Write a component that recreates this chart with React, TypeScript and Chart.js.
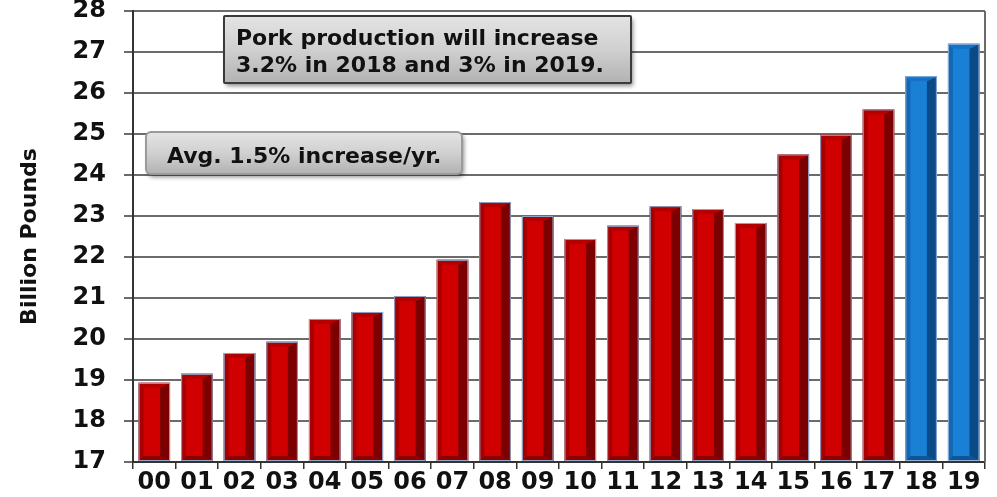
import React, { useEffect, useRef } from "react";
import { Chart, registerables } from "chart.js";
Chart.register(...registerables);

const categories = ["00", "01", "02", "03", "04", "05", "06", "07", "08", "09", "10", "11", "12", "13", "14", "15", "16", "17", "18", "19"];
const production = [18.93, 19.15, 19.66, 19.93, 20.49, 20.66, 21.05, 21.93, 23.34, 23.0, 22.44, 22.76, 23.24, 23.17, 22.83, 24.5, 24.98, 25.6, 26.41, 27.2];
const forecastYears = ["18", "19"];
const yMin = 17;
const yMax = 28;
const axisTitle = "Billion Pounds";
const noteForecast = ["Pork production will increase", "3.2% in 2018 and 3% in 2019."];
const noteAverage = "Avg. 1.5% increase/yr.";

const FONT = '"DejaVu Sans", "Liberation Sans", Arial, sans-serif';

const redPal = { front: "#d00000", left: "#a80000", right: "#7c0000", top: "#b30000", bottom: "#8c0000", edge: "#8fa6c8" };
const bluePal = { front: "#1a80d6", left: "#1268b5", right: "#0b4a86", top: "#1572c4", bottom: "#0d5596", edge: "#8fb0d8" };

const isForecast = (i: number) => forecastYears.includes(categories[i]);

const bevelPlugin = {
  id: "bevel",
  afterDatasetsDraw(chart: any) {
    const meta = chart.getDatasetMeta(0);
    const ctx = chart.ctx as CanvasRenderingContext2D;
    ctx.save();
    meta.data.forEach((el: any, i: number) => {
      const { x, y, base, width } = el.getProps(["x", "y", "base", "width"], true);
      const pal = isForecast(i) ? bluePal : redPal;
      const l = x - width / 2;
      const r = x + width / 2;
      const t = Math.min(y, base);
      const b = Math.max(y, base);
      const side = Math.round(width * 0.33);
      const bev = 5;
      const poly = (pts: number[][], color: string) => {
        ctx.fillStyle = color;
        ctx.beginPath();
        ctx.moveTo(pts[0][0], pts[0][1]);
        for (let k = 1; k < pts.length; k++) ctx.lineTo(pts[k][0], pts[k][1]);
        ctx.closePath();
        ctx.fill();
      };
      poly([[r, t], [r, b], [r - side, b - bev], [r - side, t + bev]], pal.right);
      poly([[l, t], [l + bev, t + bev], [l + bev, b - bev], [l, b]], pal.left);
      poly([[l, t], [r, t], [r - side, t + bev], [l + bev, t + bev]], pal.top);
      poly([[l, b], [r, b], [r - side, b - bev], [l + bev, b - bev]], pal.bottom);
      ctx.strokeStyle = pal.edge;
      ctx.lineWidth = 1;
      ctx.strokeRect(l + 0.5, t + 0.5, width - 1, b - t - 1);
    });
    ctx.restore();
  },
};

function drawNote(
  ctx: CanvasRenderingContext2D,
  x0: number,
  y0: number,
  x1: number,
  y1: number,
  radius: number,
  border: string,
  lines: string[],
  textX: number,
  baselines: number[]
) {
  ctx.save();
  const g = ctx.createLinearGradient(0, y0, 0, y1);
  g.addColorStop(0, "#e4e4e4");
  g.addColorStop(0.5, "#d0d0d0");
  g.addColorStop(1, "#b2b2b2");
  ctx.shadowColor = "rgba(0,0,0,0.45)";
  ctx.shadowBlur = 4;
  ctx.shadowOffsetX = 2;
  ctx.shadowOffsetY = 3;
  ctx.fillStyle = g;
  ctx.beginPath();
  (ctx as any).roundRect(x0, y0, x1 - x0, y1 - y0, radius);
  ctx.fill();
  ctx.shadowColor = "transparent";
  ctx.strokeStyle = border;
  ctx.lineWidth = 2;
  ctx.stroke();
  ctx.fillStyle = "#111";
  ctx.font = `bold 22px ${FONT}`;
  ctx.textAlign = "left";
  ctx.textBaseline = "alphabetic";
  lines.forEach((s, k) => ctx.fillText(s, textX, baselines[k]));
  ctx.restore();
}

const notesPlugin = {
  id: "notes",
  afterDraw(chart: any) {
    const ctx = chart.ctx as CanvasRenderingContext2D;
    const { top, bottom, right } = chart.chartArea;
    ctx.save();
    ctx.strokeStyle = "#6b6b6b";
    ctx.lineWidth = 2;
    ctx.beginPath();
    ctx.moveTo(right, top);
    ctx.lineTo(right, bottom);
    ctx.stroke();
    ctx.restore();
    drawNote(ctx, 224, 16, 631, 83, 1, "#3a3a3a", noteForecast, 236, [45, 72]);
    drawNote(ctx, 146, 132, 462, 174, 5, "#9a9a9a", [noteAverage], 167, [163]);
  },
};

export default function App() {
  const ref = useRef<HTMLCanvasElement>(null);
  useEffect(() => {
    document.body.style.margin = "0";
    const chart = new Chart(ref.current as HTMLCanvasElement, {
      type: "bar",
      data: {
        labels: categories,
        datasets: [
          {
            data: production,
            base: yMin,
            backgroundColor: production.map((_, i) => (isForecast(i) ? bluePal.front : redPal.front)),
            borderWidth: 0,
            barPercentage: 0.74,
            categoryPercentage: 1,
          } as any,
        ],
      },
      options: {
        animation: false,
        responsive: true,
        maintainAspectRatio: false,
        layout: { padding: { top: 11, right: 12, left: 0, bottom: 0 } },
        plugins: { legend: { display: false }, tooltip: { enabled: false } },
        scales: {
          x: {
            grid: { display: true, drawOnChartArea: false, drawTicks: true, tickLength: 7, color: "#333", lineWidth: 1.5, offset: true },
            border: { display: true, color: "#333", width: 2 },
            ticks: { color: "#111", font: { family: FONT, size: 24, weight: "bold", lineHeight: 1 }, padding: 2, maxRotation: 0, autoSkip: false },
            afterFit: (s: any) => {
              s.height = 35;
              s.paddingLeft = 0;
              s.paddingRight = 0;
            },
          },
          y: {
            min: yMin,
            max: yMax,
            grid: { color: "#6b6b6b", lineWidth: 2, tickLength: 9 },
            border: { display: true, color: "#333", width: 2 },
            ticks: { stepSize: 1, color: "#111", font: { family: FONT, size: 24, weight: "bold", lineHeight: 1 }, padding: 18 },
            title: { display: true, text: axisTitle, color: "#111", font: { family: FONT, size: 22, weight: "bold", lineHeight: 1.2 }, padding: { top: 17, bottom: 0 } },
            afterFit: (s: any) => {
              s.width = 133;
              s.paddingTop = 0;
              s.paddingBottom = 0;
            },
          },
        },
      } as any,
      plugins: [bevelPlugin, notesPlugin],
    });
    return () => chart.destroy();
  }, []);
  return (
    <div style={{ position: "absolute", left: 0, top: 0, width: 997, height: 497, background: "#fff" }}>
      <canvas ref={ref} />
    </div>
  );
}
